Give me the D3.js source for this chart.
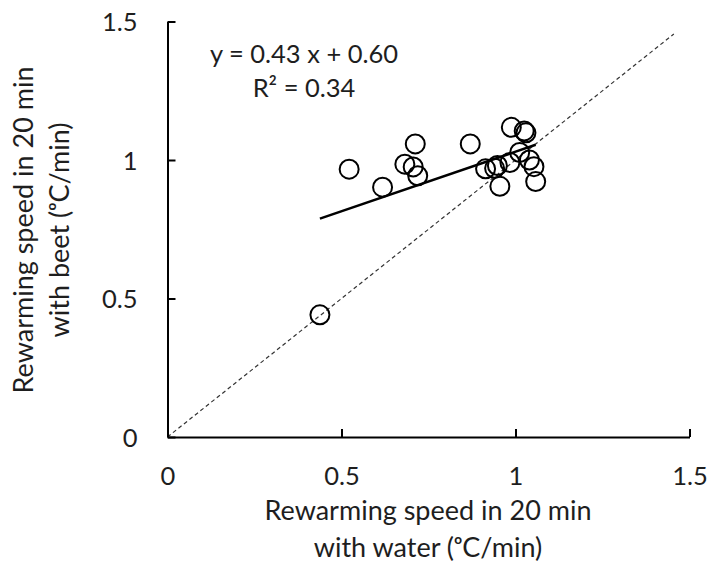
<!DOCTYPE html>
<html>
<head>
<meta charset="utf-8">
<script src="https://cdn.jsdelivr.net/npm/d3@7"></script>
<style>
  html, body { margin: 0; padding: 0; background: #fff; }
  svg { display: block; font-family: Lato, "Open Sans", sans-serif; }
</style>
</head>
<body>
<div id="chart"></div>
<script>
// rewarming speed (°C/min), one entry per subject
const waterSpeed = [0.438, 0.522, 0.618, 0.712, 0.682, 0.706, 0.719, 0.870, 0.914, 0.940,
                    0.948, 0.984, 0.955, 0.988, 1.025, 1.030, 1.012, 1.040, 1.053, 1.058];
const beetSpeed  = [0.441, 0.967, 0.902, 1.058, 0.985, 0.975, 0.943, 1.058, 0.968, 0.970,
                    0.980, 0.991, 0.905, 1.118, 1.105, 1.098, 1.027, 1.000, 0.976, 0.922];

const xTicks = [0, 0.5, 1, 1.5];
const yTicks = [0, 0.5, 1, 1.5];
const fitSlope = [0.43];
const fitIntercept = [0.60];
const identityRange = [0, 1.455];
const equationLines = ['y = 0.43 x + 0.60', 'R² = 0.34'];
const xTitleLines = ['Rewarming speed in 20 min', 'with water (ᵒC/min)'];
const yTitleLines = ['Rewarming speed in 20 min', 'with beet (ᵒC/min)'];

const width = 728, height = 564;
const ink = '#1e1e1e';

const svg = d3.select('#chart').append('svg')
  .attr('width', width)
  .attr('height', height);

const x = d3.scaleLinear().domain([0, 1.5]).range([167.5, 689.5]);
const y = d3.scaleLinear().domain([0, 1.5]).range([437, 21.5]);

// 1:1 reference line
svg.append('line')
  .attr('x1', x(identityRange[0])).attr('y1', y(identityRange[0]))
  .attr('x2', x(identityRange[1])).attr('y2', y(identityRange[1]))
  .attr('stroke', '#333')
  .attr('stroke-width', 1.2)
  .attr('stroke-dasharray', '4,3');

// data points
svg.append('g').selectAll('circle')
  .data(waterSpeed.map((w, i) => [w, beetSpeed[i]]))
  .enter()
  .append('circle')
  .attr('cx', d => x(d[0]))
  .attr('cy', d => y(d[1]))
  .attr('r', 9.5)
  .attr('fill', 'none')
  .attr('stroke', '#000')
  .attr('stroke-width', 2);

// linear fit over the range of the data
const fitX = d3.extent(waterSpeed);
const line = d3.line().x(d => x(d)).y(d => y(fitSlope[0] * d + fitIntercept[0]));
svg.append('path')
  .attr('d', line(fitX))
  .attr('fill', 'none')
  .attr('stroke', '#000')
  .attr('stroke-width', 2.5);

// axes
const xAxis = d3.axisBottom(x).tickValues(xTicks).tickFormat(d3.format('')).tickSize(-8).tickSizeOuter(0);
const yAxis = d3.axisLeft(y).tickValues(yTicks).tickFormat(d3.format('')).tickSize(-8).tickSizeOuter(0);

const gx = svg.append('g').attr('transform', `translate(0,${y(0)})`).call(xAxis);
const gy = svg.append('g').attr('transform', `translate(${x(0)},0)`).call(yAxis);

[gx, gy].forEach(g => {
  g.select('.domain').attr('stroke', '#000').attr('stroke-width', 2);
  g.selectAll('.tick line').attr('stroke', '#000').attr('stroke-width', 2);
  g.selectAll('.tick text')
    .attr('fill', ink)
    .style('font-size', '25.5px')
    .style('font-family', 'Lato, "Open Sans", sans-serif');
});
gx.selectAll('.tick text').attr('y', 48).attr('dy', null);
gy.selectAll('.tick text').attr('x', -30).attr('dy', '0.36em');

// equation
svg.append('text')
  .attr('x', 304).attr('y', 63)
  .attr('text-anchor', 'middle')
  .attr('fill', ink)
  .style('font-size', '25.5px')
  .text(equationLines[0]);
svg.append('text')
  .attr('x', 304).attr('y', 97)
  .attr('text-anchor', 'middle')
  .attr('fill', ink)
  .style('font-size', '25.5px')
  .text(equationLines[1]);

// axis titles
xTitleLines.forEach((t, i) => {
  svg.append('text')
    .attr('x', 428).attr('y', 520 + i * 36.5)
    .attr('text-anchor', 'middle')
    .attr('fill', ink)
    .style('font-size', '27px')
    .text(t);
});
yTitleLines.forEach((t, i) => {
  svg.append('text')
    .attr('transform', `translate(${33 + i * 36},230) rotate(-90)`)
    .attr('text-anchor', 'middle')
    .attr('fill', ink)
    .style('font-size', '27px')
    .text(t);
});
</script>
</body>
</html>
